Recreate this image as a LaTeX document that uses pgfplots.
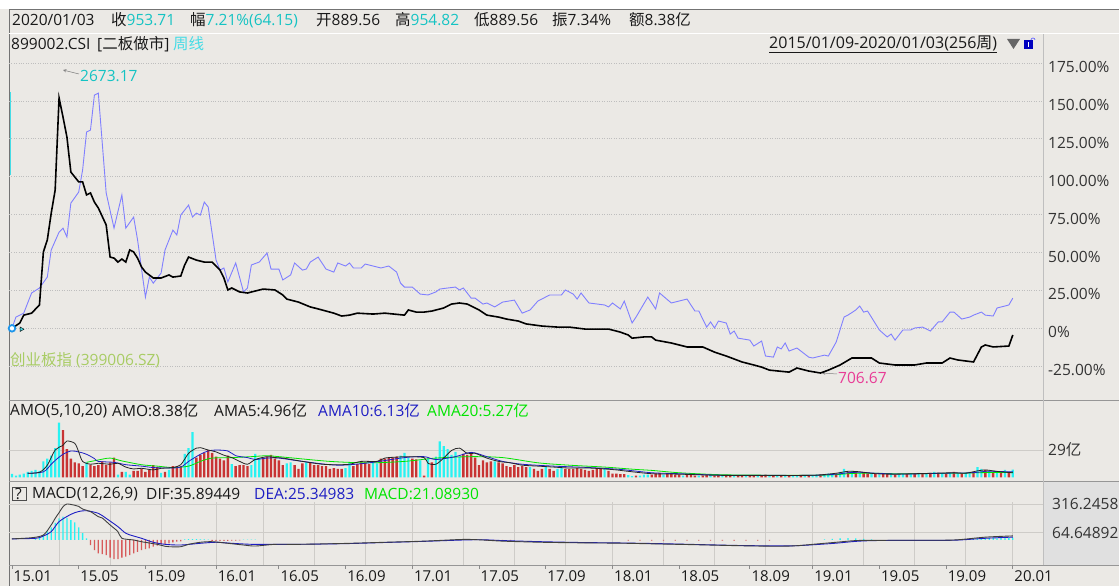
\documentclass[border=0pt]{standalone}
\usepackage{pgfplots}
\pgfplotsset{compat=1.18}
\usepackage{fontspec}
\setmainfont{Open Sans}
\newfontfamily\cjk{Noto Sans CJK SC}
\definecolor{bg}{RGB}{235,233,229}
\definecolor{tcyan}{RGB}{20,195,195}
\definecolor{zcyan}{RGB}{70,220,230}
\definecolor{mag}{RGB}{232,60,150}
\definecolor{ygreen}{RGB}{168,204,100}
\definecolor{cyb}{RGB}{128,128,255}
\definecolor{barc}{RGB}{40,242,242}
\definecolor{barr}{RGB}{200,52,52}
\definecolor{histr}{RGB}{215,90,90}
\definecolor{amab}{RGB}{30,30,195}
\definecolor{amag}{RGB}{0,228,0}
\definecolor{gridc}{RGB}{206,204,200}
\definecolor{dotc}{RGB}{190,190,190}
\definecolor{linec}{RGB}{150,150,150}
\definecolor{txt}{RGB}{25,25,25}
\newcommand{\fs}{\fontsize{15.5}{18}\selectfont}
\begin{document}
\begin{tikzpicture}[x=1pt,y=1pt]
% background
\fill[bg] (0,0) rectangle (1119,586);
\fill[white] (0,577) rectangle (1119,586);
\fill[black!12] (1043,21) rectangle (1119,104);
% frame lines
\draw[black!55, line width=0.8pt] (9,576.5) -- (1119,576.5);
\draw[black!55, line width=0.8pt] (9,0) -- (9,576.5);
\draw[white, line width=1pt] (9,552.5) -- (1119,552.5);
\draw[linec, line width=0.8pt] (9,185.5) -- (1119,185.5);
\draw[linec, line width=0.8pt] (9,104.5) -- (1119,104.5);
\draw[linec, line width=0.8pt] (9,20.5) -- (1119,20.5);
\draw[black!25, line width=0.8pt] (1043,20.5) -- (1043,552);
\draw[zcyan, line width=1pt] (10,494) -- (10,411);

% info bar
\begin{scope}[every node/.style={anchor=west, inner sep=0pt, font=\fs, text=txt}]
\node at (12,566) {2020/01/03};
\node at (111,566) {{\cjk 收}\textcolor{tcyan}{953.71}};
\node at (190,566) {{\cjk 幅}\textcolor{tcyan}{7.21\%(64.15)}};
\node at (316,566) {{\cjk 开}889.56};
\node at (395,566) {{\cjk 高}\textcolor{tcyan}{954.82}};
\node at (474,566) {{\cjk 低}889.56};
\node at (552,566) {{\cjk 振}7.34\%};
\node at (629,566) {{\cjk 额}8.38{\cjk 亿}};
% main title row
\node at (11,542) {899002.CSI};
\node at (97,542) {[{\cjk 二板做市}]};
\node at (173,542) {\textcolor{zcyan}{\cjk 周线}};
\node[font=\fontsize{16}{19}\selectfont] at (769,542) {\underline{2015/01/09-2020/01/03(256{\cjk 周})}};
% AMO title
\node at (10,175) {AMO(5,10,20)};
\node at (112,175) {AMO:8.38{\cjk 亿}};
\node at (214,175) {AMA5:4.96{\cjk 亿}};
\node at (318,175) {\textcolor{amab}{AMA10:6.13{\cjk 亿}}};
\node at (427,175) {\textcolor{amag}{AMA20:5.27{\cjk 亿}}};
% MACD title
\node at (32,92) {MACD(12,26,9)};
\node at (146,92) {DIF:35.89449};
\node at (254,92) {\textcolor{amab}{DEA:25.34983}};
\node at (364,92) {\textcolor{amag}{MACD:21.08930}};
\node at (15,92) {?};
% annotations
\node at (80,510) {\textcolor{tcyan}{2673.17}};
\node at (838,208) {\textcolor{mag}{706.67}};
\node at (10,226) {\textcolor{ygreen}{{\cjk 创业板指} (399006.SZ)}};
\end{scope}
\draw[black!70, line width=0.8pt] (12.5,85.5) rectangle (26.5,99);
\fill[black!60] (1007,547) -- (1020,547) -- (1013.5,537) -- cycle;
\fill[blue!75!black] (1024,537) rectangle (1033,546);
\fill[white] (1027.8,539) rectangle (1029.2,543.5);
\draw[blue!60, line width=0.7pt] (1031,546) arc (180:0:2);
\draw[black!50, line width=0.5pt, -stealth] (79,512) -- (63,516);
\draw[black!50, line width=0.5pt, -stealth] (837,212) -- (822,213);

% ===== main panel =====
\begin{axis}[
  at={(9pt,186pt)}, anchor=south west, scale only axis,
  width=1034pt, height=366pt,
  xmin=-0.76, xmax=262.7, ymin=-47.3, ymax=194.2,
  axis line style={draw=none}, clip=false,
  xtick=\empty,
  minor xtick={12,25,38,52,64,77,90,102,115,128,141,153,166,179,192,204,217,230,243,255},
  xminorgrids, minor x grid style={dotc, dotted, line width=0.8pt},
  ytick={-25,0,25,50,75,100,125,150,175},
  yticklabels={-25.00\%,0\%,25.00\%,50.00\%,75.00\%,100.00\%,125.00\%,150.00\%,175.00\%},
  ymajorgrids, y grid style={dotc, dotted, line width=0.8pt},
  yticklabel pos=right, ytick style={draw=none},
  yticklabel style={font=\fontsize{15.5}{18}\selectfont, text=black!80, anchor=west, inner sep=0pt, xshift=5pt, yshift=-4pt},
]
\addplot[cyb, line width=0.9pt] coordinates {
(0,0)(1,7.4)(3,10.0)(4,16.7)(5,23.3)(7,26.6)(9,33.8)(10,51.7)(12,63.5)(13,66.1)(14,60.3)(15,82.6)(17,89.9)(18,104.5)(19,129.5)(20,130.8)(21,153.9)(22,155.2)(23,122.3)(24,89.3)(26,66.1)(28,88.0)(29,66.1)(31,73.4)(32,58.3)(34,20.6)(35,33.8)(36,29.8)(38,36.5)(39,51.7)(41,64.8)(42,61.6)(43,74.7)(45,81.3)(46,73.4)(47,76.0)(48,74.7)(49,83.3)(50,80.0)(52,45.0)(53,38.4)(54,39.8)(55,30.6)(57,43.1)(59,24.0)(60,26.6)(61,41.8)(63,43.7)(65,49.7)(66,39.1)(68,39.1)(69,31.9)(71,35.2)(72,43.1)(74,38.4)(75,39.1)(76,43.7)(78,47.0)(80,39.1)(82,37.1)(83,43.1)(85,41.1)(86,43.1)(87,39.8)(89,39.8)(90,42.4)(94,39.8)(96,41.1)(98,37.1)(99,29.8)(100,27.2)(102,27.2)(104,22.6)(106,22.0)(108,24.0)(109,25.9)(111,26.6)(113,27.2)(114,25.3)(115,26.6)(117,19.9)(118,19.9)(120,16.0)(121,16.7)(123,14.1)(125,17.3)(128,18.6)(130,10.0)(132,12.1)(134,18.0)(137,22.0)(140,22.0)(141,25.3)(143,22.6)(144,19.3)(145,23.3)(147,16.7)(151,15.4)(152,14.1)(153,16.7)(155,12.8)(156,18.0)(158,3.5)(159,7.4)(162,20.6)(164,12.8)(165,23.3)(168,16.7)(172,19.3)(174,11.4)(175,11.4)(177,0.8)(178,4.2)(179,0.2)(180,4.8)(182,3.5)(183,-3.8)(184,-1.8)(185,-6.5)(188,-7.8)(189,-11.7)(191,-8.4)(192,-18.3)(194,-19.0)(195,-12.3)(196,-13.6)(197,-9.7)(198,-15.0)(200,-13.0)(203,-19.0)(204,-19.6)(207,-17.7)(208,-18.3)(210,-9.1)(212,7.4)(213,8.7)(215,12.1)(216,14.7)(217,10.7)(218,11.4)(221,-1.1)(223,-5.7)(224,-3.8)(225,-7.8)(227,-1.1)(229,-1.1)(230,0.2)(232,0.8)(234,-1.8)(236,4.2)(237,4.2)(239,10.7)(240,10.7)(242,6.1)(244,7.4)(245,8.7)(247,10.7)(248,8.7)(250,8.1)(251,13.4)(253,14.7)(254,15.4)(255,19.9)
};
\addplot[black, line width=1.6pt] coordinates {
(0,0)(2,3.5)(3,8.7)(5,10.0)(7,15.4)(8,50.4)(9,58.3)(10,76.0)(11,91.2)(12,152.0)(13,139.4)(14,126.2)(15,103.1)(17,96.6)(18,96.6)(19,88.0)(20,89.3)(21,83.3)(22,79.4)(24,68.2)(25,47.0)(26,46.3)(27,43.7)(28,45.7)(29,43.7)(30,51.7)(31,50.4)(32,46.3)(33,40.5)(34,37.1)(36,33.2)(38,33.2)(40,35.2)(41,33.8)(43,34.5)(44,41.8)(45,47.0)(47,45.0)(49,43.7)(51,43.7)(53,38.4)(54,33.2)(55,25.3)(56,26.6)(58,24.0)(60,23.3)(62,24.6)(64,25.9)(67,25.3)(69,22.0)(70,19.3)(73,17.3)(76,14.1)(78,12.8)(82,10.0)(84,8.1)(86,8.7)(88,10.0)(92,9.4)(95,10.0)(100,8.7)(101,12.1)(103,10.7)(105,10.7)(107,11.4)(110,13.4)(112,16.0)(114,16.7)(116,16.0)(119,12.1)(121,8.7)(124,7.4)(126,6.1)(129,4.8)(131,2.9)(135,1.5)(139,0.8)(142,0.8)(146,-0.5)(149,-0.5)(152,-0.5)(155,-2.5)(157,-4.4)(158,-6.5)(161,-5.7)(163,-5.7)(164,-7.8)(168,-9.7)(172,-12.3)(176,-12.3)(179,-15.7)(182,-18.3)(186,-22.2)(189,-24.2)(191,-25.6)(193,-27.6)(198,-28.9)(200,-26.2)(203,-28.2)(206,-29.5)(208,-27.6)(211,-24.2)(214,-19.6)(216,-19.6)(219,-19.6)(221,-22.9)(225,-24.2)(230,-24.2)(233,-22.9)(237,-22.9)(239,-19.6)(241,-20.9)(245,-22.2)(247,-12.3)(248,-11.0)(250,-12.3)(254,-11.7)(255,-4.4)
};
\addplot[only marks, mark=triangle*, mark size=2.6pt, mark options={rotate=-90, fill=zcyan, draw=none}] coordinates {(2.4,-0.6)};
\addplot[only marks, mark=*, mark size=3.3pt, mark options={fill=white, draw={rgb,255:red,30;green,150;blue,235}, line width=1.8pt}] coordinates {(0,0)};
\end{axis}

% ===== AMO panel =====
\begin{axis}[
  at={(9pt,105pt)}, anchor=south west, scale only axis,
  width=1034pt, height=61pt,
  xmin=-0.76, xmax=262.7, ymin=-3.7, ymax=60.7,
  axis line style={draw=none}, clip=false,
  xtick=\empty,
  minor xtick={12,25,38,52,64,77,90,102,115,128,141,153,166,179,192,204,217,230,243,255},
  xminorgrids, minor x grid style={gridc, line width=0.8pt},
  ytick={29}, yticklabels={29{\cjk 亿}},
  ymajorgrids, y grid style={gridc, line width=0.8pt},
  yticklabel pos=right, ytick style={draw=none},
  yticklabel style={font=\fontsize{15.5}{18}\selectfont, text=black!80, anchor=west, inner sep=0pt, xshift=5pt},
]
\addplot[ybar, bar width=2.2pt, bar shift=0pt, fill=barc, draw=none] coordinates {
(0,3.7)(1,2)(2,3)(3,4)(4,6)(5,7)(6,8)(7,7)(8,17)(9,20)(10,23)(11,31)(12,58)(19,16)(27,3)(29,6)(30,3)(38,5)(40,8)(44,25)(45,31)(46,48)(56,14)(61,13)(62,25)(63,20)(70,15)(71,16)(75,16)(85,10)(86,16)(92,16)(93,15)(99,23)(100,26)(101,21)(104,18)(106,20)(108,22)(109,38)(110,33)(111,30)(112,24)(113,27)(114,22)(123,17)(132,11)(136,11)(139,9)(140,10)(151,10)(157,2.5)(158,1.5)(160,2)(161,3)(162,3)(166,3)(171,2)(175,2)(178,2)(181,1.5)(184,2)(187,1.5)(190,2)(193,2)(195,2)(197,1.5)(199,2)(200,2)(202,2)(204,2)(205,3)(207,3)(208,4)(209,4)(211,6)(212,9)(214,7)(216,5)(219,4)(221,3)(224,3)(226,3)(227,3.5)(229,4)(231,5)(233,4)(235,6)(237,4)(239,5)(241,4)(243,5)(244,6)(246,11)(247,9)(249,7)(251,6)(253,8)(255,8.38)
};
\addplot[ybar, bar width=2.4pt, bar shift=0pt, fill=barr, draw=none] coordinates {
(13,50)(14,30)(15,20)(16,16)(17,15)(18,12)(20,13)(21,12)(22,13)(23,17)(24,13)(25,16)(26,21)(28,6)(31,7)(32,7)(33,9)(34,6)(35,8)(36,13)(37,11)(39,6)(41,12)(42,12)(43,12)(47,21)(48,24)(49,26)(50,29)(51,26)(52,22)(53,20)(54,18)(55,23)(57,12)(58,13)(59,13)(60,12)(64,21)(65,22)(66,24)(67,20)(68,18)(69,13)(72,13)(73,9)(74,15)(76,16)(77,13)(78,13)(79,12)(80,12)(81,9)(82,10)(83,9)(84,9)(87,12)(88,14)(89,16)(90,16)(91,14)(94,20)(95,20)(96,21)(97,21)(98,22)(102,20)(103,19)(105,2)(107,16)(115,25)(116,24)(117,25)(118,21)(119,13)(120,18)(121,16)(122,17)(124,16)(125,15)(126,12)(127,11)(128,13)(129,11)(130,12)(131,11)(133,9)(134,7)(135,9)(137,9)(138,7)(141,9)(142,9)(143,9)(144,10)(145,9)(146,8)(147,7)(148,8)(149,9)(150,10)(152,7)(153,4)(154,4)(155,3.5)(156,3.5)(159,2)(163,3)(164,4)(165,5)(167,4)(168,4)(169,3)(170,3)(172,2.5)(173,2.5)(174,2)(176,2)(177,2.5)(179,2)(180,2)(182,2)(183,2)(185,2)(186,2)(188,2.5)(189,2)(191,2)(192,3)(194,2)(196,2)(198,2)(201,2)(203,2.5)(206,3)(210,4)(213,6)(215,6)(217,5)(218,4)(220,4)(222,4)(223,3.5)(225,3)(228,4)(230,4)(232,4)(234,5)(236,5)(238,4)(240,6)(242,4)(245,6)(248,8)(250,6)(252,5)(254,6)
};
\addplot[amag, line width=0.8pt, smooth] coordinates {
(19,16)(22,18.5)(25,20.5)(28,17.5)(33,13.5)(37,12)(41,10.5)(45,12)(48,17)(51,20.5)(56,21)(61,22)(65,23)(68,22)(81,17)(91,15.5)(100,17)(108,20.5)(117,22)(125,21)(134,15.5)(142,13)(151,11)(159,8.5)(163,7.5)(170,5)(180,3)(190,2.5)(200,2.3)(205,2.3)(210,3)(213,4)(216,4.5)(220,4.5)(225,4)(230,4)(235,4.2)(240,4.5)(243,4.6)(246,5)(248,5.2)(250,5.3)(252,5.3)(255,5.27)
};
\addplot[amab, line width=0.8pt, smooth] coordinates {
(4,4.4)(8,6)(10,14)(11,18)(13,24.5)(15,28)(17,27)(19,24.5)(21,20)(22,17)(26,16)(29,13.5)(33,12)(36,10.5)(40,10)(43,11)(45,17)(48,24.5)(50,28)(52,29)(55,28)(57,23)(60,21)(62,19)(65,20.5)(68,20.5)(74,17)(83,13)(91,15.5)(100,21)(105,22)(108,19)(113,22)(117,26.5)(121,22)(125,17)(130,14)(138,12)(147,10.5)(155,8.5)(163,5)(170,4)(180,2.5)(190,2.3)(200,2.2)(205,2.4)(210,3.5)(213,5)(216,5.5)(220,4.5)(225,3.7)(230,3.8)(235,4.3)(240,4.7)(243,4.8)(246,5.5)(248,6.5)(250,6.5)(252,6.2)(255,6.13)
};
\addplot[black!85, line width=0.8pt, smooth] coordinates {
(4,4.4)(7,5.5)(9,13)(11,29)(13,34)(14,38.5)(16,36)(17,27)(18,17)(20,14)(22,15)(25,14)(27,15)(29,11)(31,9)(33,9.7)(36,8)(38,9.7)(41,10.5)(43,13.5)(45,25.5)(47,31)(48,31.5)(50,29)(52,27)(54,23.5)(56,21)(58,17)(60,14)(62,19)(65,22)(67,21)(69,20.5)(74,17)(79,14)(83,13.5)(86,14)(89,17)(93,17)(95,20.5)(98,21.5)(101,22)(105,21)(106,15)(108,14)(110,20.5)(112,28.5)(114,31)(116,25.5)(118,25.5)(121,20.5)(124,17)(127,15.5)(130,13)(134,12)(138,11)(142,10)(147,10)(151,9)(154,8)(157,6.5)(163,4)(170,3.5)(180,2.3)(190,2.2)(200,2.2)(205,2.5)(210,4.5)(213,6.5)(216,6)(220,4)(225,3.5)(230,4)(235,4.5)(240,5)(243,4.5)(246,7)(248,8)(250,7)(252,6)(255,4.96)
};
\end{axis}

% ===== MACD panel =====
\begin{axis}[
  at={(9pt,21pt)}, anchor=south west, scale only axis,
  width=1034pt, height=63pt,
  xmin=-0.76, xmax=262.7, ymin=-219.5, ymax=333.6,
  axis line style={draw=none}, clip=false,
  xtick={0,17,34,52,68,85,102,119,136,153,170,188,204,221,238,255},
  xticklabels={15.01,15.05,15.09,16.01,16.05,16.09,17.01,17.05,17.09,18.01,18.05,18.09,19.01,19.05,19.09,20.01},
  xtick pos=bottom, tick align=outside, major tick length=4pt, minor tick length=0pt,
  xtick style={black!45, line width=0.8pt},
  xticklabel style={font=\fontsize{15}{18}\selectfont, text=txt, anchor=north west, inner sep=0pt, xshift=1.5pt, yshift=-1pt},
  minor xtick={12,25,38,52,64,77,90,102,115,128,141,153,166,179,192,204,217,230,243,255},
  xminorgrids, minor x grid style={gridc, line width=0.8pt},
  ytick={64.64892,316.24589}, yticklabels={64.64892,316.24589},
  ymajorgrids, y grid style={gridc, line width=0.8pt},
  yticklabel pos=right, ytick style={draw=none},
  yticklabel style={font=\fontsize{15.5}{18}\selectfont, text=black!80, anchor=west, inner sep=0pt, xshift=5pt},
]
\addplot[ybar, bar width=1.3pt, bar shift=0pt, fill=barc, draw=none] coordinates {
(6,10)(7,25)(8,45)(9,75)(10,110)(11,150)(12,190)(13,205)(14,195)(15,175)(16,155)(17,110)(18,60)(19,15)(44,6)(45,8)(46,8)(47,7)(48,6)(49,5)(50,4)(59,3)(60,4)(61,3)(62,3)(113,4)(114,5)(115,4)(116,3)(207,6)(209,10)(211,14)(213,16)(215,14)(217,9)(219,5)(244,10)(245,12)(246,15)(247,18)(248,20)(249,19)(250,18)(251,17)(252,17)(253,18)(254,19)(255,21.09)
};
\addplot[ybar, bar width=1.3pt, bar shift=0pt, fill=histr, draw=none] coordinates {
(20,-44)(21,-88)(22,-117)(23,-125)(24,-132)(25,-155)(26,-167)(27,-167)(28,-155)(29,-145)(30,-132)(31,-117)(32,-105)(33,-88)(34,-80)(35,-73)(36,-59)(37,-50)(38,-38)(39,-34)(40,-30)(41,-20)(42,-15)(43,-12)(51,-8)(52,-8)(53,-8)(54,-8)(55,-7)(56,-6)(57,-5)(58,-4)(121,-5)(123,-6)(125,-8)(127,-6)(157,-6)(160,-6)(163,-6)(166,-6)(169,-6)(172,-6)(175,-6)(178,-6)(181,-6)(184,-6)(187,-6)(190,-6)(193,-6)
};
\addplot[amab, line width=0.9pt, smooth] coordinates {
(0,10)(6,15)(8,35)(10,73)(12,161)(15,225)(17,250)(19,257)(22,234)(24,190)(27,117)(29,59)(31,35)(33,15)(36,-20)(39,-38)(43,-44)(48,-29)(52,-20)(56,-29)(61,-38)(65,-38)(73,-38)(85,-32)(95,-22)(105,-12)(115,0)(120,2)(125,-5)(135,-15)(145,-22)(155,-26)(165,-32)(175,-40)(185,-48)(195,-52)(200,-50)(205,-40)(210,-28)(215,-12)(220,-5)(230,-3)(240,-2)(248,15)(255,25.35)
};
\addplot[black!75, line width=0.9pt, smooth] coordinates {
(0,10)(5,20)(8,44)(10,132)(11,190)(12,240)(13,292)(14,316)(16,305)(17,295)(18,272)(20,249)(22,205)(23,193)(25,132)(27,73)(28,15)(31,0)(33,-15)(37,-38)(39,-55)(40,-59)(43,-59)(45,-38)(48,-20)(51,-15)(55,-29)(59,-44)(62,-53)(67,-38)(73,-38)(85,-30)(95,-20)(105,-10)(115,5)(120,0)(125,-10)(135,-20)(145,-25)(155,-28)(165,-35)(175,-42)(185,-50)(195,-55)(200,-50)(205,-35)(210,-20)(215,-5)(220,-3)(230,-2)(240,0)(248,25)(255,35.89)
};
\end{axis}
\pgfresetboundingbox
\path[use as bounding box] (0,0) rectangle (1119,586);
\end{tikzpicture}
\end{document}
